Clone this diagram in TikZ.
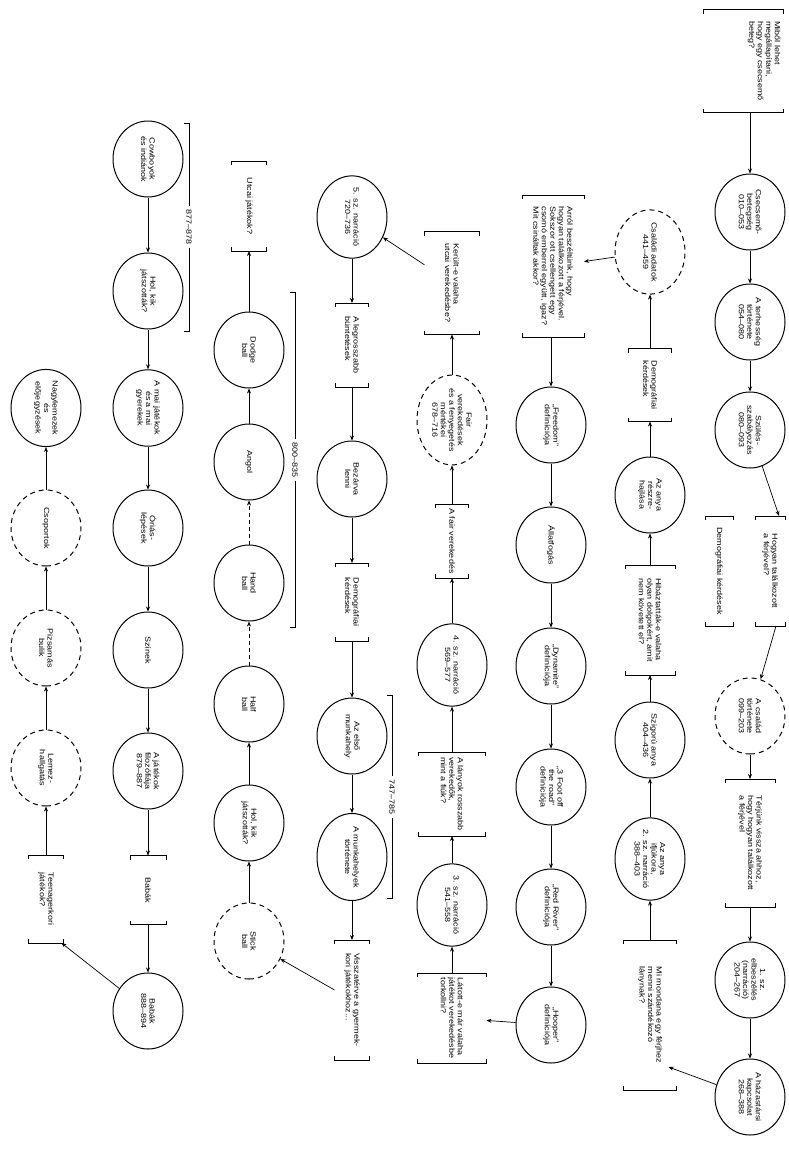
\documentclass[tikz,border=0pt]{standalone}
\usepackage{fontspec}
\setmainfont{Liberation Sans}[FakeStretch=1.2]
\usetikzlibrary{arrows.meta,calc,shapes.geometric}
\tikzset{
  txt/.style={font=\fontsize{7.5}{8.5}\selectfont, rotate=-90},
  circ/.style={txt, ellipse, draw, line width=1pt, minimum width=76pt, minimum height=70pt, inner sep=0pt, align=center},
  dcirc/.style={circ, dash pattern=on 5pt off 4pt},
  brk/.style={txt, inner sep=0pt, outer sep=0pt, align=left},
  brkline/.style={line width=0.8pt},
  arr/.style={line width=0.7pt, -{Stealth[length=5pt,width=4pt]}},
  darr/.style={arr, dash pattern=on 4pt off 3pt},
  rng/.style={txt, inner sep=3pt},
}
\begin{document}
\begin{tikzpicture}[x=1pt,y=-1pt]
\path[use as bounding box] (0,0) rectangle (788,1171);
% column 1
\node[brk, minimum width=103] (mibol) at (764,61) {Miből lehet\\megállapítani,\\hogy egy csecsemő\\beteg?};
\coordinate (mL) at (703,0); \coordinate (mR) at (783,0);
\draw[brkline] ($(mibol.west -| mR)+(0,4)$) -- (mibol.west -| mR) -- (mibol.west -| mL) -- ++(0,4)
  ($(mibol.east -| mR)+(0,-4)$) -- (mibol.east -| mR) -- (mibol.east -| mL) -- ++(0,-4);
\node[circ] (csec) at (750,212) {Csecsemő-\\betegség\\010–053};
\node[circ] (terh) at (750,322) {A terhesség\\története\\054–080};
\node[circ] (szul) at (750,430) {Szülés-\\szabályozás\\080–093};
\node[brk, minimum width=110, minimum height=30] (hogyan) at (770,571) {Hogyan találkozott\\a férjével?};
\node[brk, minimum width=110, minimum height=28] (demog1) at (719,571) {Demográfiai kérdések};
\node[dcirc] (acsal) at (750,716) {A család\\története\\099–203};
\node[brk, minimum width=128, minimum height=50] (terj) at (750,843) {Térjünk vissza ahhoz,\\hogy hogyan találkozott\\a férjével};
\node[circ] (elb1) at (750,980) {1. sz.\\elbeszélés\\(narráció)\\204–267};
\node[circ] (hazas) at (750,1097) {A házastársi\\kapcsolat\\268–388};
% column 2
\node[dcirc] (csal) at (650,252) {Családi adatok\\441–459};
\node[brk, minimum width=73, minimum height=43] (demog2) at (650,385) {Demográfiai\\kérdések};
\node[circ] (reszre) at (650,495) {Az anya\\részre-\\hajlása};
\node[brk, minimum width=110, minimum height=50] (hib) at (650,620) {Hibáztatták-e valaha\\olyan dolgokért, amit\\nem követett el?};
\node[circ] (szig) at (650,740) {Szigorú anya\\404–436};
\node[circ] (ifj) at (650,859) {Az anya\\ifjúkora,\\2. sz. narráció\\388–403};
\node[brk, minimum width=150, minimum height=53] (mimond) at (650,1015) {Mi mondana egy férjhez\\menni szándékozó\\lánynak?};
% column 3
\node[brk, minimum width=142, minimum height=62] (arrol) at (553,266) {Arról beszéltünk, hogy\\hogyan találkozott a férjével.\\Sokszor ott csellengett egy\\csomó emberrel együtt, igaz?\\Mit csináltak akkor?};
\node[circ] (free) at (551,425) {„Freedom”\\definíciója};
\node[circ] (allat) at (551,545) {Állatfogás};
\node[circ] (dyn) at (551,666) {„Dynamite”\\definíciója};
\node[circ] (foot) at (551,787) {„3 Foot off\\the road”\\definíciója};
\node[circ] (red) at (551,907) {„Red River”\\definíciója};
\node[circ] (hoop) at (551,1025) {„Hooper”\\definíciója};
% column 4
\node[brk, minimum width=103, minimum height=55] (kerult) at (452,283) {Került-e valaha\\utcai verekedésbe?};
\node[dcirc] (fair) at (452,420) {Fair\\verekedések\\és a fenyegetés\\mértékei\\678–716};
\node[brk, minimum width=74, minimum height=33] (fairver) at (452,541) {A fair verekedés};
\node[circ] (n4) at (452,665) {4. sz. narráció\\569–577};
\node[brk, minimum width=84, minimum height=67] (lanyok) at (452,794) {A lányok rosszabb\\verekedők,\\mint a fiúk?};
\node[circ] (n3) at (452,905) {3. sz. narráció\\541–558};
\node[brk, minimum width=90, minimum height=69] (latott) at (452,1018) {Látott-e már valaha\\játékot verekedésbe\\torkollni?};
% column 5
\node[circ] (n5) at (352,217) {5. sz. narráció\\720–736};
\node[brk, minimum width=84, minimum height=33] (legr) at (352,345) {A legrosszabb\\büntetések};
\node[circ] (bezar) at (352,479) {Bezárva\\lenni};
\node[brk, minimum width=78, minimum height=33] (demog5) at (352,602) {Demográfiai\\kérdések};
\node[circ] (elso) at (352,736) {Az első\\munkahely};
\node[circ] (munk) at (352,857) {A munkahelyek\\története};
\node[brk, minimum width=120, minimum height=35] (vissza) at (352,1000) {Visszatérve a gyermek-\\kori játékokhoz...};
% column 6
\node[brk, minimum width=90, minimum height=35] (utcai) at (249,206) {Utcai játékok?};
\node[circ] (dodge) at (249,350) {Dodge\\ball};
\node[circ] (angol) at (249,462) {Angol};
\node[circ] (hand) at (249,583) {Hand\\ball};
\node[circ] (half) at (249,704) {Half\\ball};
\node[circ] (holkik6) at (249,823) {Hol, kik\\játszották?};
\node[dcirc] (stick) at (249,941) {Stick\\ball};
% column 7
\node[circ] (cow) at (148,159) {Cowboyok\\és indiánok};
\node[circ] (holkik7) at (148,291) {Hol, kik\\játszották?};
\node[circ] (mai) at (148,408) {A mai játékok\\és a mai\\gyerekek};
\node[circ] (orias) at (148,528) {Óriás-\\lépések};
\node[circ] (szinek) at (148,650) {Színek};
\node[circ] (filoz) at (148,771) {A játékok\\filozófiája\\879–887};
\node[brk, minimum width=69, minimum height=36] (babakb) at (148,890) {Babák};
\node[circ] (babak) at (148,1011) {Babák\\888–894};
% column 8
\node[circ] (nagy) at (46,408) {Nagylemezek\\és\\előjegyzések};
\node[dcirc] (csop) at (46,528) {Csoportok};
\node[dcirc] (pizs) at (46,648) {Pizsamás\\bulik};
\node[dcirc] (lemez) at (46,768) {Lemez-\\hallgatás};
\node[brk, minimum width=88, minimum height=35] (teen) at (46,899) {Teenagerkori\\játékok?};
% brackets
\foreach \n in {hogyan,demog1,terj,demog2,hib,mimond,arrol,kerult,fairver,lanyok,latott,legr,demog5,vissza,utcai,babakb,teen}{
  \draw[brkline] ($(\n.north west)!4pt!(\n.north east)$) -- (\n.north west) -- (\n.south west) -- ($(\n.south west)!4pt!(\n.south east)$)
    ($(\n.north east)!4pt!(\n.north west)$) -- (\n.north east) -- (\n.south east) -- ($(\n.south east)!4pt!(\n.south west)$);
}
% range labels
\node[rng] (r1) at (392,797) {747–785};
\coordinate (r1a) at (392,695); \coordinate (r1b) at (392,898);
\draw[brkline] ($(r1a)+(-5,0)$) -- (r1a) -- (r1.west) (r1.east) -- (r1b) -- ++(-5,0);
\node[rng] (r2) at (295,460) {800–835};
\coordinate (r2a) at (295,292); \coordinate (r2b) at (295,627);
\draw[brkline] ($(r2a)+(-5,0)$) -- (r2a) -- (r2.west) (r2.east) -- (r2b) -- ++(-5,0);
\node[rng] (r3) at (189,227) {877–878};
\coordinate (r3a) at (189,123); \coordinate (r3b) at (189,331);
\draw[brkline] ($(r3a)+(-5,0)$) -- (r3a) -- (r3.west) (r3.east) -- (r3b) -- ++(-5,0);
% arrows column 1
\draw[arr] (mibol.east -| csec) -- (csec);
\draw[arr] (csec) -- (terh);
\draw[arr] (terh) -- (szul);
\draw[arr] (szul) -- ($(hogyan.north west)!0.2!(hogyan.south west)$);
\draw[arr] ($(hogyan.north east)!0.3!(hogyan.south east)$) -- (acsal);
\draw[arr] (acsal) -- (terj);
\draw[arr] (terj) -- (elb1);
\draw[arr] (elb1) -- (hazas);
\draw[arr] (hazas) -- ($(mimond.north east)+(-8,-23)$);
% column 2
\draw[arr] (mimond) -- (ifj);
\draw[arr] (ifj) -- (szig);
\draw[arr] (szig) -- (hib);
\draw[arr] (hib) -- (reszre);
\draw[arr] (reszre) -- (demog2);
\draw[arr] (demog2) -- (csal);
\draw[arr] (csal) -- (arrol);
% column 3
\draw[arr] (arrol.east -| free) -- (free);
\draw[arr] (free) -- (allat);
\draw[arr] (allat) -- (dyn);
\draw[arr] (dyn) -- (foot);
\draw[arr] (foot) -- (red);
\draw[arr] (red) -- (hoop);
\draw[arr] (hoop) -- (latott);
% column 4
\draw[arr] (latott) -- (n3);
\draw[arr] (n3) -- (lanyok);
\draw[arr] (lanyok) -- (n4);
\draw[arr] (n4) -- (fairver);
\draw[arr] (fairver) -- (fair);
\draw[arr] (fair) -- (kerult);
\draw[arr] (kerult) -- (n5);
% column 5
\draw[arr] (n5) -- (legr);
\draw[arr] (legr) -- (bezar);
\draw[arr] (bezar) -- (demog5);
\draw[arr] (demog5) -- (elso);
\draw[arr] (elso) -- (munk);
\draw[arr] (munk) -- (vissza);
\draw[arr] (vissza) -- (stick);
% column 6
\draw[arr] (stick) -- (holkik6);
\draw[arr] (holkik6) -- (half);
\draw[darr] (half) -- (hand);
\draw[darr] (hand) -- (angol);
\draw[arr] (angol) -- (dodge);
\draw[arr] (dodge) -- (utcai);
% column 7
\draw[arr] (cow) -- (holkik7);
\draw[arr] (holkik7) -- (mai);
\draw[arr] (mai) -- (orias);
\draw[arr] (orias) -- (szinek);
\draw[arr] (szinek) -- (filoz);
\draw[arr] (filoz) -- (babakb);
\draw[arr] (babakb) -- (babak);
\draw[arr] (babak) -- ($(teen.north east)+(-2,0)$);
% column 8
\draw[arr] (teen) -- (lemez);
\draw[arr] (lemez) -- (pizs);
\draw[arr] (pizs) -- (csop);
\draw[arr] (csop) -- (nagy);
\end{tikzpicture}
\end{document}
